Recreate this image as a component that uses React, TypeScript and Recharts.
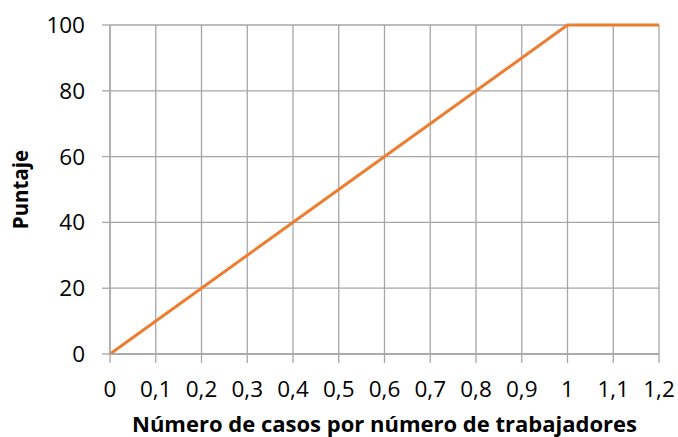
import React from "react";
import { LineChart, Line, XAxis, YAxis, CartesianGrid, Label } from "recharts";

const xValues = [0, 1, 1.2];
const yValues = [0, 100, 100];
const xTicks = [0, 0.1, 0.2, 0.3, 0.4, 0.5, 0.6, 0.7, 0.8, 0.9, 1, 1.1, 1.2];
const yTicks = [0, 20, 40, 60, 80, 100];

const data = xValues.map((x, i) => ({ x, y: yValues[i] }));

const FONT = "'Open Sans', 'Noto Sans', sans-serif";
const GRID = "#a6a6a6";

export default function App() {
  return (
    <div style={{ position: "absolute", left: 0, top: 0, width: 678, height: 437, background: "#fff" }}>
      <LineChart width={678} height={437} data={data} margin={{ top: 25, right: 19, bottom: 0, left: 0 }}>
        <CartesianGrid stroke={GRID} strokeWidth={1.3} vertical={true} horizontal={true} />
        <XAxis
          dataKey="x"
          type="number"
          domain={[0, 1.2]}
          ticks={xTicks}
          interval={0}
          tickFormatter={(v: number) => String(Math.round(v * 10) / 10).replace(".", ",")}
          stroke={GRID}
          strokeWidth={1.3}
          tickSize={9}
          tickMargin={18}
          height={83}
          tick={{ fill: "#000", fontSize: 22.5, fontFamily: FONT }}
          tickLine={{ stroke: GRID }}
        >
          <Label
            value="Número de casos por número de trabajadores"
            position="insideBottom"
            offset={5}
            style={{ fill: "#000", fontSize: 22, fontWeight: 700, fontFamily: FONT }}
          />
        </XAxis>
        <YAxis
          dataKey="y"
          type="number"
          domain={[0, 100]}
          ticks={yTicks}
          interval={0}
          width={110}
          stroke={GRID}
          strokeWidth={1.3}
          tickSize={8}
          tickMargin={17}
          tick={{ fill: "#000", fontSize: 22.5, fontFamily: FONT }}
          tickLine={{ stroke: GRID }}
        >
          <Label
            value="Puntaje"
            angle={-90}
            position="insideLeft"
            offset={21}
            style={{ fill: "#000", fontSize: 20.5, fontWeight: 700, fontFamily: FONT, textAnchor: "middle" }}
          />
        </YAxis>
        <Line
          dataKey="y"
          type="linear"
          stroke="#ED7D31"
          strokeWidth={3}
          dot={false}
          activeDot={false}
          isAnimationActive={false}
        />
      </LineChart>
    </div>
  );
}
